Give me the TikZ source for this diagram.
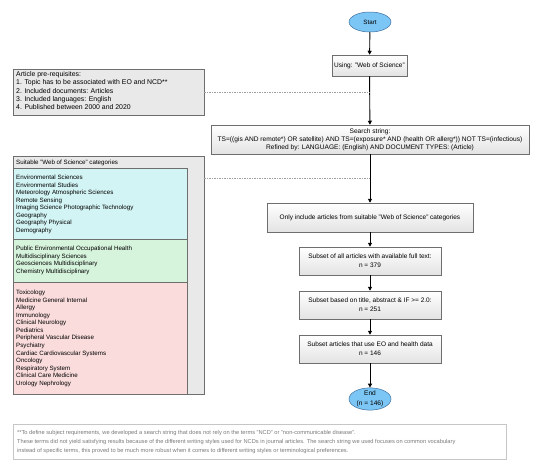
\documentclass[tikz,border=0pt]{standalone}
\usepackage{fontspec}
\setmainfont{Liberation Sans}
\usetikzlibrary{shapes.geometric,arrows.meta,shadows}
\definecolor{ovalfill}{HTML}{7CC6F5}
\definecolor{ovaldraw}{HTML}{3E6F9E}
\definecolor{cyanfill}{HTML}{D3F4F4}
\definecolor{greenfill}{HTML}{D6F3DC}
\definecolor{redfill}{HTML}{FADCDC}
\definecolor{outerfill}{HTML}{E9E9E9}
\definecolor{boxdraw}{HTML}{6E6E6E}
\definecolor{foottext}{HTML}{7A7A7A}
\begin{document}
\begin{tikzpicture}[x=1pt,y=-1pt,
  txt/.style={font=\fontsize{6.5}{8.8}\selectfont},
  listfont/.style={font=\fontsize{6.2}{7.55}\selectfont},
  oval/.style={ellipse,draw=ovaldraw,line width=0.5pt,fill=ovalfill,minimum width=42pt,minimum height=20pt,inner sep=0pt,align=center},
  flowbox/.style={draw=boxdraw,line width=0.5pt,top color=white,bottom color=gray!22,
     drop shadow={shadow xshift=0.8pt,shadow yshift=-0.8pt,fill=gray!55,opacity=0.8},
     inner sep=0pt,align=center,txt},
  flow/.style={line width=0.9pt,-{Triangle[length=4pt,width=4pt]}},
  dashlink/.style={draw=gray!75,dashed,dash pattern=on 1.5pt off 1pt,line width=0.5pt},
  panel/.style={draw=boxdraw,line width=0.5pt},
  listtxt/.style={listfont,anchor=north west,align=left,inner sep=0pt}
]
\useasboundingbox (0,0) rectangle (550,466);

% flow column
\node[oval,font=\fontsize{6.2}{8}\selectfont] (start) at (370,22) {Start};
\node[flowbox,minimum width=75pt,minimum height=21pt] (using) at (369.5,65.5) {Using: "Web of Science"};
\node[flowbox,minimum width=318pt,minimum height=29pt,font=\fontsize{6.6}{7.8}\selectfont] (search) at (370,139.5)
 {Search string:\\TS=((gis AND remote*) OR satellite) AND TS=(exposure* AND (health OR allerg*)) NOT TS=(infectious)\\Refined by: LANGUAGE: (English) AND DOCUMENT TYPES: (Article)};
\node[flowbox,minimum width=206pt,minimum height=29pt] (only) at (370,217.5) {Only include articles from suitable "Web of Science" categories};
\node[flowbox,minimum width=142pt,minimum height=28pt] (sub1) at (370,261) {Subset of all articles with available full text:\\n = 379};
\node[flowbox,minimum width=142pt,minimum height=28pt] (sub2) at (370,305) {Subset based on title, abstract \& IF >= 2.0:\\n = 251};
\node[flowbox,minimum width=142pt,minimum height=28pt] (sub3) at (370,349) {Subset articles that use EO and health data\\n = 146};
\node[oval,font=\fontsize{6.6}{9.6}\selectfont] (end) at (370,399) {End\\(n = 146)};

\draw[flow] (start) -- (using);
\draw[flow] (using) -- (search);
\draw[flow] (search) -- (only);
\draw[flow] (only) -- (sub1);
\draw[flow] (sub1) -- (sub2);
\draw[flow] (sub2) -- (sub3);
\draw[flow] (sub3) -- (end);

% prerequisites
\node[draw=boxdraw,line width=0.5pt,fill=outerfill,minimum width=191pt,minimum height=46pt,inner sep=0pt] (prereq) at (108.5,92) {};
\node[anchor=north west,align=left,inner sep=0pt,font=\fontsize{6.9}{8.2}\selectfont] (prereqtxt) at (16,71.5) {Article pre-requisites:\\1. Topic has to be associated with EO and NCD**\\2. Included documents: Articles\\3. Included languages: English\\4. Published between 2000 and 2020};
\coordinate (j1) at (370,92);
\draw[dashlink] (prereq.east) -- (j1);

% categories panel
\node[panel,fill=outerfill,minimum width=191pt,minimum height=238pt,inner sep=0pt] (outer) at (108.5,275) {};
\node[listfont,anchor=west,inner sep=0pt] (cattitle) at (16,162.5) {Suitable "Web of Science" categories};
\node[panel,fill=cyanfill,minimum width=174pt,minimum height=71pt,inner sep=0pt] (cyanbox) at (100,203.5) {};
\node[panel,fill=greenfill,minimum width=174pt,minimum height=43pt,inner sep=0pt] (greenbox) at (100,260.5) {};
\node[panel,fill=redfill,minimum width=174pt,minimum height=112pt,inner sep=0pt] (redbox) at (100,338) {};
\node[listtxt] (cyantxt) at (16,175) {Environmental Sciences\\Environmental Studies\\Meteorology Atmospheric Sciences\\Remote Sensing\\Imaging Science Photographic Technology\\Geography\\Geography Physical\\Demography};
\node[listtxt] (greentxt) at (16,246) {Public Environmental Occupational Health\\Multidisciplinary Sciences\\Geosciences Multidisciplinary\\Chemistry Multidisciplinary};
\node[listtxt] (redtxt) at (16,290) {Toxicology\\Medicine General Internal\\Allergy\\Immunology\\Clinical Neurology\\Pediatrics\\Peripheral Vascular Disease\\Psychiatry\\Cardiac Cardiovascular Systems\\Oncology\\Respiratory System\\Clinical Care Medicine\\Urology Nephrology};
\coordinate (j2) at (370,178);
\draw[dashlink] (outer.east |- j2) -- (j2);

% footnote
\node[draw=gray!45,line width=0.6pt,fill=white,minimum width=493pt,minimum height=35pt,inner sep=0pt] (footbox) at (259.5,441.5) {};
\node[anchor=north west,align=left,inner sep=0pt,text=foottext,font=\fontsize{5.7}{9}\selectfont] (foottxt) at (17,430.5) {**To define subject requirements, we developed a search string that does not rely on the terms "NCD" or "non-communicable disease".\\These terms did not yield satisfying results because of the different writing styles used for NCDs in journal articles. The search string we used focuses on common vocabulary\\instead of specific terms, this proved to be much more robust when it comes to different writing styles or terminological preferences.};
\end{tikzpicture}
\end{document}
